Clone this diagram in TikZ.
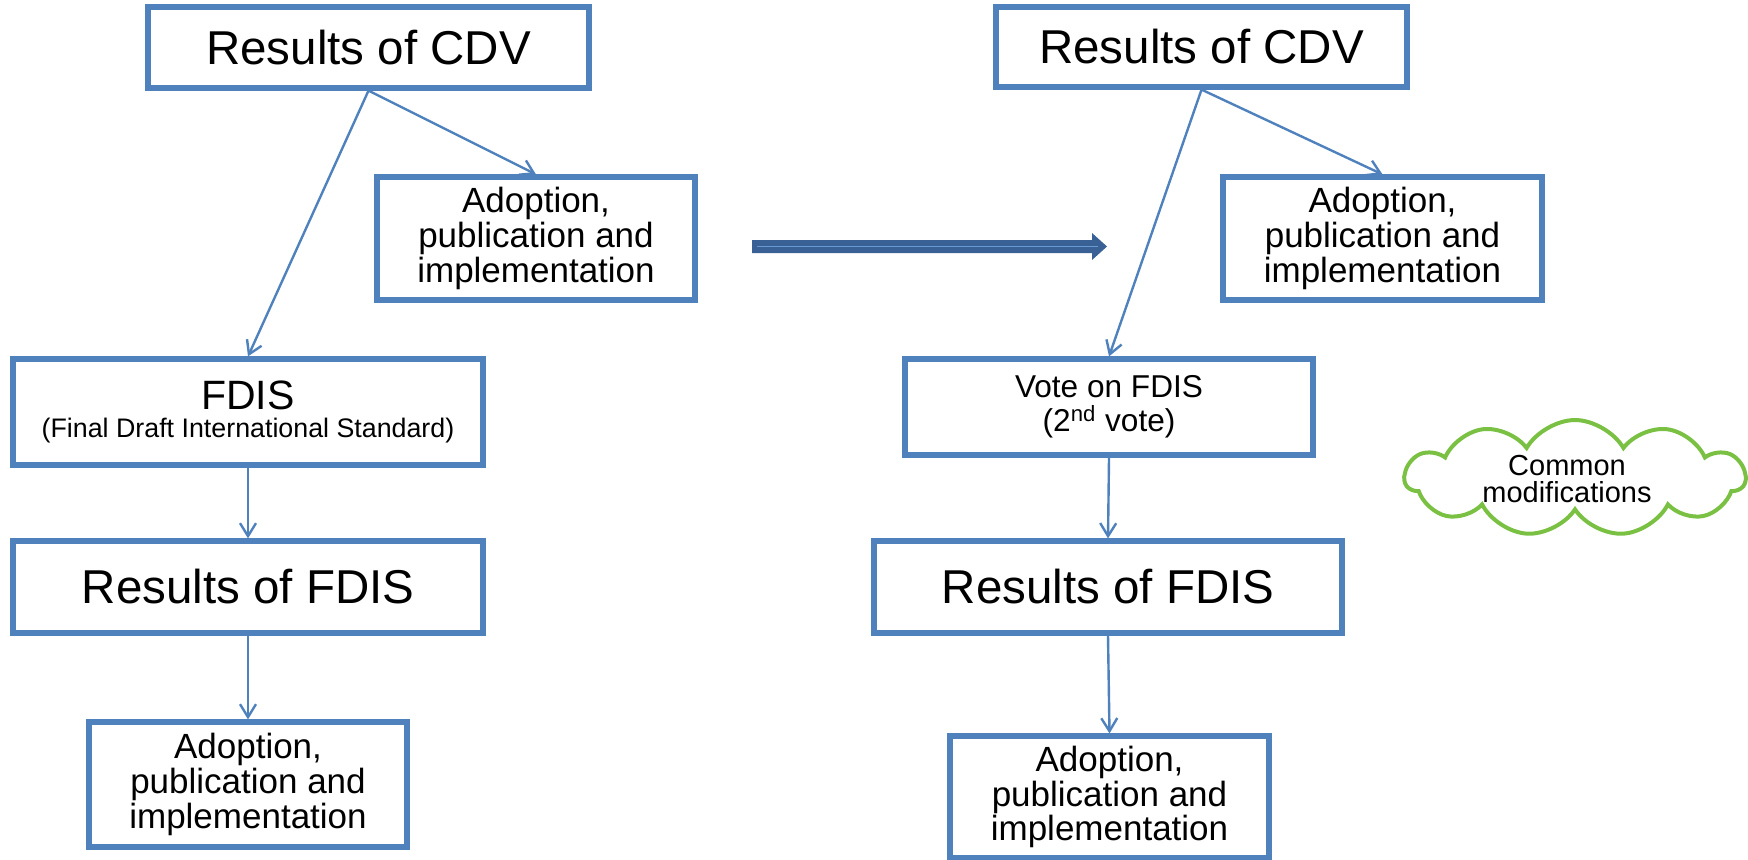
\documentclass[tikz,border=0pt]{standalone}
\usepackage{fontspec}
\setmainfont{Liberation Sans}
\usetikzlibrary{arrows.meta,shapes.symbols}
\definecolor{boxblue}{HTML}{4F81BD}
\definecolor{arrowdark}{HTML}{3A6195}
\definecolor{arrowlight}{HTML}{6A98D0}
\definecolor{cloudgreen}{HTML}{7AC143}
\begin{document}
\begin{tikzpicture}[x=0.5pt,y=-0.5pt,
  stagebox/.style={draw=boxblue, line width=2.6pt, fill=white, align=center, inner sep=0pt},
  bigtext/.style={font=\fontsize{23.75}{28}\selectfont},
  midtext/.style={font=\fontsize{17.5}{15.6}\selectfont},
  votetext/.style={font=\fontsize{15.8}{17}\selectfont},
  notetext/.style={font=\fontsize{13.4}{14}\selectfont},
  link/.style={draw=boxblue, line width=1.2pt, -{Straight Barb[length=6.5pt,width=8pt,line width=1.2pt]}},
]
\useasboundingbox (0,0) rectangle (1748,859);

% ---- left: procedure without vote on FDIS
\node[stagebox, bigtext, minimum width=220.5pt, minimum height=40.5pt] (cdvL) at (368.5,47.5) {Results of CDV};
\node[stagebox, midtext, minimum width=159pt, minimum height=61.5pt] (adoptTL) at (536,238.5) {Adoption,\\publication and\\implementation};
\node[stagebox, notetext, minimum width=235pt, minimum height=53pt] (fdisL) at (248,412)
  {{\fontsize{20.5}{20.5}\selectfont FDIS}\\(Final Draft International Standard)};
\node[stagebox, bigtext, minimum width=235pt, minimum height=46pt] (resL) at (248,587) {Results of FDIS};
\node[stagebox, midtext, minimum width=159pt, minimum height=62.5pt] (adoptBL) at (248,784.5) {Adoption,\\publication and\\implementation};

\draw[link] (cdvL.south) -- (fdisL.north);
\draw[link] (cdvL.south) -- (adoptTL.north);
\draw[link] (fdisL.south) -- (resL.north);
\draw[link] (resL.south) -- (adoptBL.north);

% ---- transition arrow
\fill[arrowdark] (752,240) -- (1092,240) -- (1092,233) -- (1107,246.5) -- (1092,260) -- (1092,253) -- (752,253) -- cycle;
\draw[arrowlight, line width=0.9pt] (757,246.5) -- (1098,246.5);

% ---- right: procedure with vote on FDIS
\node[stagebox, bigtext, minimum width=205.5pt, minimum height=40pt] (cdvR) at (1201.5,47) {Results of CDV};
\node[stagebox, midtext, minimum width=159.5pt, minimum height=61.5pt] (adoptTR) at (1382.5,238.5) {Adoption,\\publication and\\implementation};
\node[stagebox, votetext, minimum width=204pt, minimum height=48pt] (vote) at (1109,407) {Vote on FDIS\\(2\textsuperscript{nd} vote)};
\node[stagebox, bigtext, minimum width=234pt, minimum height=46pt] (resR) at (1108,587) {Results of FDIS};
\node[stagebox, midtext, minimum width=159.5pt, minimum height=61pt] (adoptBR) at (1109.5,797) {Adoption,\\publication and\\implementation};

\draw[link] (cdvR.south) -- (vote.north);
\draw[link] (cdvR.south) -- (adoptTR.north);
\draw[link] (vote.south) -- (resR.north);
\draw[link] (resR.south) -- (adoptBR.north);

% ---- cloud note
\node[cloud, draw=cloudgreen, line width=2pt, cloud puffs=11, cloud puff arc=120,
      cloud ignores aspect, minimum width=170pt, minimum height=58pt] (cloud) at (1575,478) {};
\node[align=center, font=\fontsize{14.5}{13.6}\selectfont] (cloudtext) at (1567,479) {Common\\modifications};
\end{tikzpicture}
\end{document}
